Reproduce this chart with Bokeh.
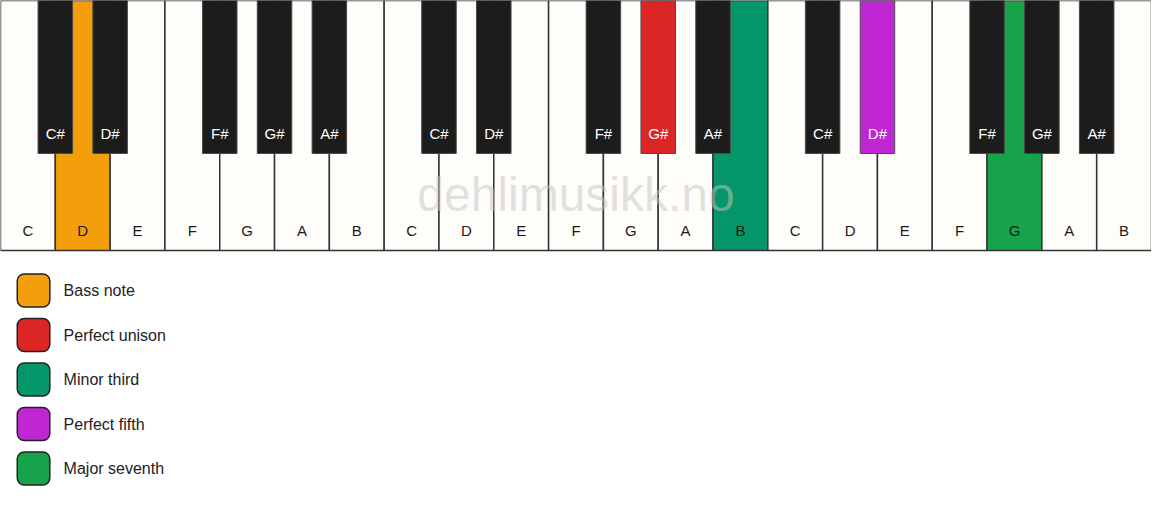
from bokeh.plotting import figure
from bokeh.models import Range1d
from bokeh.core.properties import value
from bokeh.embed import file_html
from bokeh.resources import INLINE

# ---- data ----
white_notes = ["C", "D", "E", "F", "G", "A", "B"] * 3
# black keys sit on the boundary after the white key with this index
black_notes = ["C#", "D#", "F#", "G#", "A#"] * 3
black_slots = [1, 2, 4, 5, 6, 8, 9, 11, 12, 13, 15, 16, 18, 19, 20]

# highlighted keys: index in its list -> legend label
marks_white = {1: "Bass note", 13: "Minor third", 18: "Major seventh"}
marks_black = {8: "Perfect unison", 11: "Perfect fifth"}

legend_labels = ["Bass note", "Perfect unison", "Minor third", "Perfect fifth", "Major seventh"]
legend_colors = ["#f59e0b", "#dc2626", "#059669", "#c026d3", "#16a34a"]
color_of = dict(zip(legend_labels, legend_colors))

watermark = "dehlimusikk.no"

# ---- geometry (reference pixels) ----
W_TOTAL = 1167
WK = W_TOTAL / len(white_notes)
WH, BH, BW = 250, 153, 35
FONT = "Liberation Sans"

p = figure(width=1151, height=490, output_backend="svg", toolbar_location=None,
           x_range=Range1d(0, W_TOTAL), y_range=Range1d(490, 0),
           min_border=0, background_fill_color="white", border_fill_color="white")
p.axis.visible = False
p.grid.visible = False
p.outline_line_color = None

# white keys
wl = [i * WK for i in range(len(white_notes))]
wr = [(i + 1) * WK for i in range(len(white_notes))]
wc = [color_of[marks_white[i]] if i in marks_white else "#fffdf9" for i in range(len(white_notes))]
p.quad(left=wl, right=wr, top=0, bottom=WH, fill_color=wc, line_color="#333333", line_width=1.5)
p.text(x=[(a + b) / 2 for a, b in zip(wl, wr)], y=230, text=white_notes,
       text_align="center", text_baseline="middle", text_font=value(FONT),
       text_font_size="15px", text_color="#1a1a1a")

# watermark
p.text(x=[W_TOTAL / 2], y=[194], text=[watermark], text_align="center", text_baseline="middle",
       text_font=value(FONT), text_font_size="48px", text_color="#c4c4c4", text_alpha=0.5)

# black keys
bx = [s * WK for s in black_slots]
bc = [color_of[marks_black[i]] if i in marks_black else "#1c1c1c" for i in range(len(black_notes))]
p.quad(left=[x - BW / 2 for x in bx], right=[x + BW / 2 for x in bx], top=0, bottom=BH,
       fill_color=bc, line_color="#4a4a4a", line_width=1)
p.text(x=bx, y=133, text=black_notes, text_align="center", text_baseline="middle",
       text_font=value(FONT), text_font_size="15px", text_color="white")

# legend
ly = [290 + 44.5 * i for i in range(len(legend_labels))]
p.quad(left=17, right=50, top=[y - 16.5 for y in ly], bottom=[y + 16.5 for y in ly],
       fill_color=legend_colors, line_color="#222222", line_width=1.5, border_radius=7)
p.text(x=64, y=ly, text=legend_labels, text_align="left", text_baseline="middle",
       text_font=value(FONT), text_font_size="16px", text_color="#222222")

open("out.html", "w").write(file_html(p, INLINE))
